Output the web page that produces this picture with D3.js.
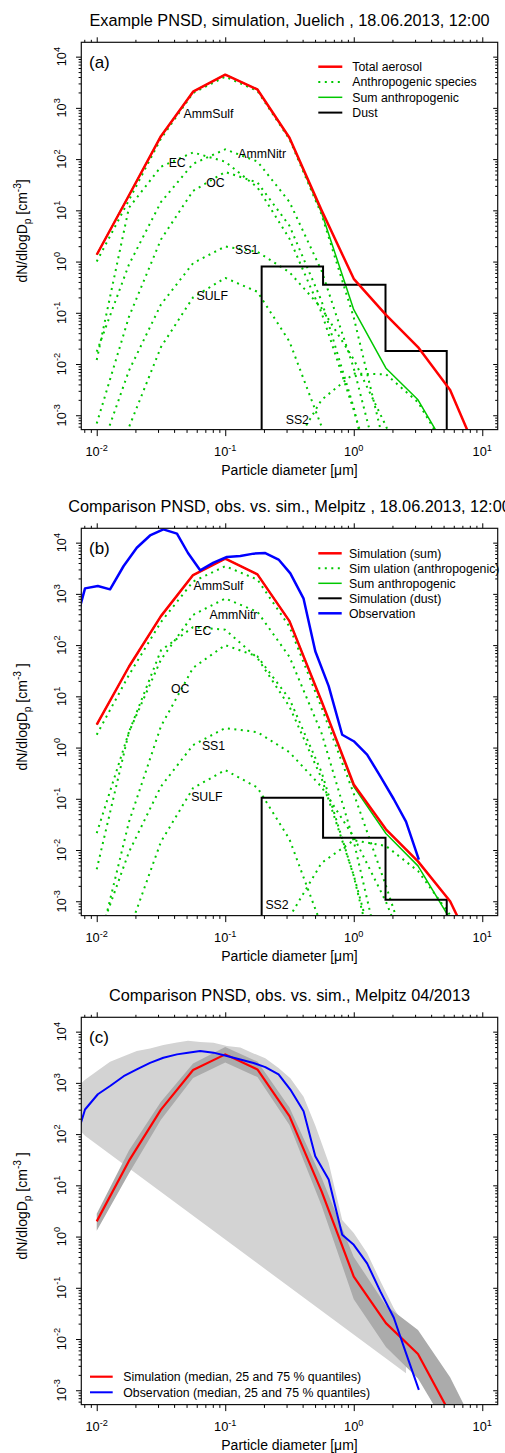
<!DOCTYPE html>
<html>
<head>
<meta charset="utf-8">
<script src="https://cdn.jsdelivr.net/npm/d3@7"></script>
<style>
  html, body { margin: 0; padding: 0; background: #fff; }
  svg { display: block; font-family: "Liberation Sans", Arial, Helvetica, sans-serif; }
  text { white-space: pre; }
</style>
</head>
<body>
<div id="chart"></div>
<script>

//Model size grid (um) and observation size bins
var simD = [0.01, 0.0178, 0.0316, 0.0562, 0.1, 0.178, 0.316, 0.562, 1.0, 1.78, 3.16, 5.62, 10.0];
var obsD = [0.00724, 0.00811, 0.0102, 0.0127, 0.0162, 0.0205, 0.026, 0.033, 0.0421, 0.0513, 0.0638, 0.0811,
            0.103, 0.131, 0.166, 0.205, 0.26, 0.321, 0.407, 0.502, 0.638, 0.813, 1.0, 1.27, 1.61, 2.05, 2.55, 3.21];
var dustEdges = [0.192, 0.577, 1.766, 5.29];
var speciesNames = ["AmmSulf", "EC", "AmmNitr", "OC", "SS1", "SULF", "SS2"];

//Panel (a): Juelich simulation
var aTotal = [1.36, 19.5, 280, 2070, 4450, 2290, 261, 10, 0.46, 0.091, 0.0214, 0.0031, 1.07e-4];
var aSumAnthro = [1.36, 19.5, 280, 2070, 4450, 2290, 260, 9.0, 0.115, 0.0083, 0.002, 1.7e-4, null];
var aDust = [0.805, 0.353, 0.018];
var aAmmSulf = [1.0, 15.8, 251, 1950, 4070, 2140, 245, 8.3, 0.081, 1.9e-4, null, null, null];
var aEC = [0.012, 11.2, 71, 135, 89, 28, 2.8, 0.1, 1.26e-3, 1e-5, null, null, null];
var aAmmNitr = [0.0174, 0.87, 14.5, 81, 155, 90, 14.6, 0.66, 8.3e-3, 2.9e-5, null, null, null];
var aOC = [6.9e-4, 0.083, 2.7, 24, 56, 35, 5.0, 0.17, 1.4e-3, 2.8e-6, null, null, null];
var aSS1 = [1.2e-4, 7.4e-3, 0.145, 0.93, 1.97, 1.55, 0.62, 0.123, 0.0123, 6.2e-4, 1.5e-5, null, null];
var aSULF = [3.9e-6, 5.8e-4, 0.0214, 0.2, 0.48, 0.257, 0.0275, 6.0e-4, 2.6e-6, null, null, null, null];
var aSS2 = [null, null, null, null, null, null, 1.8e-4, 2.0e-3, 6.5e-3, 6.3e-3, 1.8e-3, 1.6e-4, null];
var aLabelD = [0.0741, 0.0423, 0.194, 0.084, 0.147, 0.0792, 0.364];
var aLabelV = [767, 84.5, 127, 35.3, 1.71, 0.218, 8.3e-4];

//Panel (b): Melpitz simulation vs observation
var bTotal = [2.8, 37.8, 368, 2330, 4870, 2400, 294, 8.0, 0.19, 0.0254, 0.006, 0.001, 5e-5];
var bSumAnthro = [2.8, 37.8, 368, 2330, 4870, 2400, 294, 7.9, 0.173, 0.021, 0.0049, 4.5e-4, 2.5e-5];
var bDust = [0.105, 0.0174, 0.00107];
var bAmmSulf = [1.78, 26, 282, 1740, 3470, 1900, 229, 6.0, 0.126, 2.0e-3, 2.5e-5, null, null];
var bEC = [4.2e-3, 2.0, 79, 224, 200, 56, 6.3, 0.25, 3.2e-3, 1.6e-5, null, null, null];
var bAmmNitr = [0.0214, 2.0, 52, 389, 813, 447, 59, 1.9, 0.0148, 2.8e-5, null, null, null];
var bOC = [9.1e-5, 0.035, 2.6, 36, 100, 60, 8.9, 0.33, 3.1e-3, 7.4e-6, null, null, null];
var bSS1 = [1.6e-4, 9.1e-3, 0.174, 1.12, 2.4, 2.0, 0.81, 0.17, 0.018, 9.8e-4, 2.7e-5, null, null];
var bSULF = [9.1e-7, 2.6e-4, 0.0145, 0.162, 0.363, 0.166, 0.0162, 3.3e-4, 1.4e-6, null, null, null, null];
var bSS2 = [null, null, null, null, null, null, 4.9e-4, 5.6e-3, 0.0155, 0.012, 3.9e-3, 5.4e-4, 3.2e-5];
var bObs = [450, 1280, 1420, 1225, 3500, 7940, 13800, 18200, 15000, 6280, 2880, 4070,
            5250, 5500, 6100, 6270, 4680, 2510, 805, 76, 15.8, 1.78, 1.33, 0.73, 0.275, 0.098, 0.036, 0.0065];
var bLabelD = [0.0887, 0.067, 0.116, 0.0446, 0.0811, 0.072, 0.253];
var bLabelV = [1460, 187, 396, 14, 1.09, 0.111, 8.45e-4];

//Panel (c): Melpitz 04/2013 medians and quartiles
var cSimMedian = [1.98, 30, 300, 1780, 3600, 1830, 224, 7.6, 0.166, 0.0204, 0.0051, 3.5e-4, 2e-5];
var cSimQ25 = [1.3, 17, 190, 1250, 2500, 1300, 150, 4.0, 0.06, 0.007, 0.0017, 1.5e-4, 5e-6];
var cSimQ75 = [2.8, 48, 430, 2400, 5000, 2600, 330, 14, 0.4, 0.045, 0.015, 0.0018, 1e-4];
var cObsMedian = [120, 302, 600, 870, 1350, 1830, 2450, 3100, 3600, 3890, 4200, 3890,
                  3340, 2860, 2450, 2030, 1460, 740, 280, 37, 13, 1.09, 0.69, 0.30, 0.085, 0.026, 0.0053, 0.00102];
var cObsQ25 = [126, 93, null, null, null, null, null, null, null, null, null, null,
               null, null, null, null, null, null, null, null, null, null, null, null, null, null, 0.00214, null];
var cObsQ75 = [890, 1150, 1740, 2570, 3310, 4170, 4680, 5500, 6170, 6610, 6310, 6100,
               5250, 4900, 3760, 3020, 1950, 1230, 537, 148, 27.5, 2.1, 1.17, 0.48, 0.135, 0.04, 0.0166, null];

//Legend texts
var aLegend = ["Total aerosol", "Anthropogenic species", "Sum anthropogenic", "Dust"];
var bLegend = ["Simulation (sum)", "Sim ulation (anthropogenic)", "Sum anthropogenic", "Simulation (dust)", "Observation"];
var cLegend = ["Simulation (median, 25 and 75 % quantiles)", "Observation (median, 25 and 75 % quantiles)"];

//Layout
var w = 505, h = 1453;
var plotLeft = 81.3, plotRight = 497.7, plotH = 387.3;
var titleX = (plotLeft + plotRight) / 2;

var red = "#ff0000", green = "#00c800", blue = "#0000ff", black = "#000000";

var svg = d3.select("#chart").append("svg")
    .attr("width", w)
    .attr("height", h);

svg.append("rect").attr("width", w).attr("height", h).attr("fill", "white");

var x = d3.scaleLog()
    .domain([Math.pow(10, -2.12), Math.pow(10, 1.12)])
    .range([plotLeft, plotRight]);

var isMajor = function(t) {
    return Math.abs(Math.log10(t) - Math.round(Math.log10(t))) < 1e-6;
};

//Text with sub/superscripts
function richText(t, parts, size) {
    var shift = 0;
    parts.forEach(function(p) {
        var target = p[1] == "sup" ? -0.4 * size : (p[1] == "sub" ? 0.25 * size : 0);
        t.append("tspan")
            .attr("dy", target - shift)
            .attr("font-size", p[1] == "n" ? size : size * 0.72)
            .text(p[0]);
        shift = target;
    });
}

function makePanel(top, title, tag, unitClose) {
    var bottom = top + plotH;
    var y = d3.scaleLog()
        .domain([Math.pow(10, -3.28), Math.pow(10, 4.28)])
        .range([bottom, top]);

    var clipId = "clip" + tag.replace(/\W/g, "");
    svg.append("clipPath").attr("id", clipId)
        .append("rect")
        .attr("x", plotLeft).attr("y", top)
        .attr("width", plotRight - plotLeft).attr("height", plotH);

    var plot = svg.append("g").attr("clip-path", "url(#" + clipId + ")");
    var frame = svg.append("g");

    //Title
    frame.append("text")
        .attr("x", titleX).attr("y", top - 16.3)
        .attr("text-anchor", "middle")
        .attr("font-size", 16.3)
        .text(title);

    //Ticks on all four sides
    var xt = x.ticks(), yt = y.ticks();
    var xMaj = xt.filter(isMajor), xMin = xt.filter(function(t) { return !isMajor(t); });
    var yMaj = yt.filter(isMajor), yMin = yt.filter(function(t) { return !isMajor(t); });

    function ticks(axisFn, scale, vals, size, tr) {
        frame.append("g")
            .attr("transform", tr)
            .call(axisFn(scale).tickValues(vals).tickSize(size).tickFormat(""))
            .call(function(s) { s.select(".domain").remove(); });
    }
    ticks(d3.axisBottom, x, xMaj, 6.5, "translate(0," + bottom + ")");
    ticks(d3.axisBottom, x, xMin, 3.3, "translate(0," + bottom + ")");
    ticks(d3.axisTop, x, xMaj, 5, "translate(0," + top + ")");
    ticks(d3.axisTop, x, xMin, 2.5, "translate(0," + top + ")");
    ticks(d3.axisLeft, y, yMaj, 5.3, "translate(" + plotLeft + ",0)");
    ticks(d3.axisLeft, y, yMin, 2.7, "translate(" + plotLeft + ",0)");
    ticks(d3.axisLeft, y, yMaj, 4.5, "translate(" + plotRight + ",0)");
    ticks(d3.axisLeft, y, yMin, 2.5, "translate(" + plotRight + ",0)");

    //Box
    frame.append("rect")
        .attr("x", plotLeft).attr("y", top)
        .attr("width", plotRight - plotLeft).attr("height", plotH)
        .attr("fill", "none")
        .attr("stroke", "#111")
        .attr("stroke-width", 1.2);

    //Tick labels
    xMaj.forEach(function(t) {
        var lab = frame.append("text")
            .attr("x", x(t)).attr("y", bottom + 26.5)
            .attr("text-anchor", "middle")
            .attr("font-size", 12.8);
        richText(lab, [["10", "n"], [String(Math.round(Math.log10(t))), "sup"]], 12.8);
    });
    yMaj.forEach(function(t) {
        var lab = frame.append("text")
            .attr("transform", "translate(65.5," + y(t) + ") rotate(-90)")
            .attr("text-anchor", "middle")
            .attr("font-size", 12.8);
        richText(lab, [["10", "n"], [String(Math.round(Math.log10(t))), "sup"]], 12.8);
    });

    //Axis titles
    frame.append("text")
        .attr("x", titleX).attr("y", bottom + 45.5)
        .attr("text-anchor", "middle")
        .attr("font-size", 14)
        .text("Particle diameter [\u03bcm]");

    var yt2 = frame.append("text")
        .attr("transform", "translate(27," + (top + plotH / 2 - 5) + ") rotate(-90)")
        .attr("text-anchor", "middle")
        .attr("font-size", 14);
    richText(yt2, [["dN/dlogD", "n"], ["p", "sub"], [" [cm", "n"], ["-3", "sup"], [unitClose, "n"]], 14);

    //Panel tag
    frame.append("text")
        .attr("x", 89).attr("y", top + 25.7)
        .attr("font-size", 17)
        .text(tag);

    return {y: y, plot: plot, frame: frame, top: top, bottom: bottom};
}

function drawLine(p, xs, vals, color, width, dotted) {
    var line = d3.line()
        .defined(function(d) { return d[1] != null; })
        .x(function(d) { return x(d[0]); })
        .y(function(d) { return p.y(d[1]); });
    p.plot.append("path")
        .datum(xs.map(function(d, i) { return [d, vals[i]]; }))
        .attr("d", line)
        .attr("fill", "none")
        .attr("stroke", color)
        .attr("stroke-width", width)
        .attr("stroke-linejoin", "round")
        .attr("stroke-dasharray", dotted ? "2,4.5" : null);
}

function drawDust(p, vals) {
    var floor = 1e-6;
    var pts = [[dustEdges[0], floor]];
    vals.forEach(function(v, i) {
        pts.push([dustEdges[i], v]);
        pts.push([dustEdges[i + 1], v]);
    });
    pts.push([dustEdges[dustEdges.length - 1], floor]);
    p.plot.append("path")
        .attr("d", d3.line().x(function(d) { return x(d[0]); }).y(function(d) { return p.y(d[1]); })(pts))
        .attr("fill", "none")
        .attr("stroke", black)
        .attr("stroke-width", 2);
}

function drawSpeciesLabels(p, ds, vs) {
    speciesNames.forEach(function(n, i) {
        p.frame.append("text")
            .attr("x", x(ds[i])).attr("y", p.y(vs[i]) + 4.3)
            .attr("text-anchor", "middle")
            .attr("font-size", 12.3)
            .text(n);
    });
}

function drawLegend(p, x1, x2, tx, y0, dy, keys, styles) {
    keys.forEach(function(k, i) {
        var yy = y0 + i * dy;
        p.frame.append("line")
            .attr("x1", x1).attr("x2", x2)
            .attr("y1", yy).attr("y2", yy)
            .attr("stroke", styles[i].color)
            .attr("stroke-width", styles[i].width)
            .attr("stroke-dasharray", styles[i].dotted ? "2,4.5" : null);
        p.frame.append("text")
            .attr("x", tx).attr("y", yy + 4.3)
            .attr("font-size", 12.3)
            .text(k);
    });
}

//Panel (a)
var pa = makePanel(42.3, "Example PNSD, simulation, Juelich , 18.06.2013, 12:00", "(a)", "]");
[aAmmSulf, aEC, aAmmNitr, aOC, aSS1, aSULF, aSS2].forEach(function(s) {
    drawLine(pa, simD, s, green, 2, true);
});
drawLine(pa, simD, aSumAnthro, green, 1.5, false);
drawDust(pa, aDust);
drawLine(pa, simD, aTotal, red, 2.5, false);
drawSpeciesLabels(pa, aLabelD, aLabelV);
drawLegend(pa, 318.3, 342.3, 352.3, 42.3 + 24.4, 15.3, aLegend, [
    {color: red, width: 2.5}, {color: green, width: 2, dotted: true},
    {color: green, width: 1.5}, {color: black, width: 2}]);

//Panel (b)
var pb = makePanel(528.3, "Comparison PNSD, obs. vs. sim., Melpitz , 18.06.2013, 12:00", "(b)", " ]");
[bAmmSulf, bEC, bAmmNitr, bOC, bSS1, bSULF, bSS2].forEach(function(s) {
    drawLine(pb, simD, s, green, 2, true);
});
drawLine(pb, simD, bSumAnthro, green, 1.5, false);
drawDust(pb, bDust);
drawLine(pb, simD, bTotal, red, 2.5, false);
drawLine(pb, obsD, bObs, blue, 2.5, false);
drawSpeciesLabels(pb, bLabelD, bLabelV);
drawLegend(pb, 318.3, 341.7, 349, 528.3 + 25, 15, bLegend, [
    {color: red, width: 2.5}, {color: green, width: 2, dotted: true},
    {color: green, width: 1.5}, {color: black, width: 2}, {color: blue, width: 2.5}]);

//Panel (c)
var pc = makePanel(1017.3, "Comparison PNSD, obs. vs. sim., Melpitz 04/2013", "(c)", " ]");

function band(p, xs, lo, hi, fill) {
    var upper = xs.map(function(d, i) { return [d, hi[i]]; }).filter(function(d) { return d[1] != null; });
    var lower = xs.map(function(d, i) { return [d, lo[i]]; }).filter(function(d) { return d[1] != null; }).reverse();
    p.plot.append("path")
        .attr("d", d3.line().x(function(d) { return x(d[0]); }).y(function(d) { return p.y(d[1]); })(upper.concat(lower)) + "Z")
        .attr("fill", fill)
        .attr("stroke", "none");
}
band(pc, obsD, cObsQ25, cObsQ75, "#d3d3d3");
band(pc, simD, cSimQ25, cSimQ75, "#ababab");
drawLine(pc, simD, cSimMedian, red, 2.2, false);
drawLine(pc, obsD, cObsMedian, blue, 2, false);
drawLegend(pc, 90, 112.7, 123.3, 1376.7, 15.6, cLegend, [
    {color: red, width: 2.2}, {color: blue, width: 2}]);

</script>
</body>
</html>
